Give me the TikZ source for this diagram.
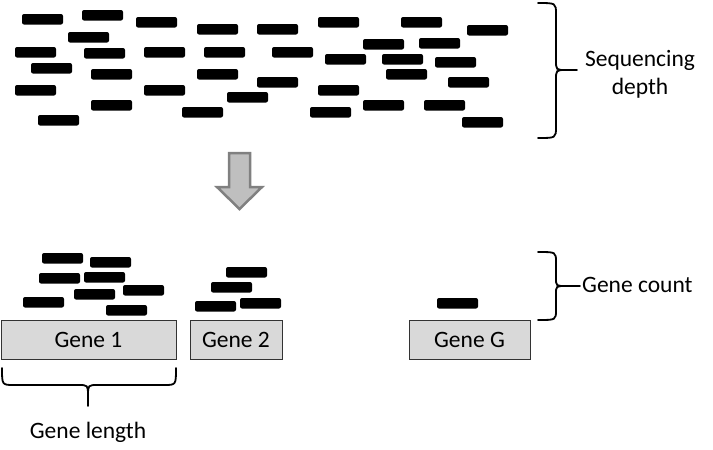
\documentclass[tikz,border=0pt]{standalone}
\usepackage{fontspec}
\setmainfont{Carlito}
\begin{document}
\begin{tikzpicture}[x=1pt,y=-1pt,
  readbar/.style={fill=black, rounded corners=2pt},
  genebox/.style={draw=black!80, line width=0.8pt, fill=black!15, inner sep=0pt, minimum height=39pt, font=\fontsize{23.5}{28}\selectfont},
  lbl/.style={font=\fontsize{23.5}{28}\selectfont, inner sep=0pt, text=black},
  bracepath/.style={draw=black, line width=1.8pt, line cap=round},
  bigarrow/.style={fill=black!25, draw=black!50, line width=2.5pt, line join=miter}]
\useasboundingbox (0,0) rectangle (713,450);
% reads (sequencing)
\foreach \x/\y in {22/14,82/10,136/17,197/24,68/32,15/47,84/48,144/47,204/47,31/63,91/69,197/69,15/85,144/85,227/92,91/100,182/107,38/115,
257/24,318/17,401/17,467/25,363/39,419/38,272/47,325/54,382/54,435/57,386/69,257/77,448/77,318/85,363/100,424/100,310/107,462/117}
  \fill[readbar] (\x,\y) rectangle ++(41,10.5);
% reads mapped to genes
\foreach \x/\y in {42/253,90/257,39/273,84/272,123/285,74/289,23/297,106/305,226/267,211/282,195/301,240/298,437/298}
  \fill[readbar] (\x,\y) rectangle ++(41,10.5);
% genes
\node[genebox, minimum width=175pt] (g1) at (88.5,339.5) {Gene 1};
\node[genebox, minimum width=92pt] (g2) at (236,339.5) {Gene 2};
\node[genebox, minimum width=121pt] (gG) at (469.5,339.5) {Gene G};
% arrow
\path[bigarrow] (229,153) -- (250,153) -- (250,187) -- (262,187) -- (239.5,209) -- (217,187) -- (229,187) -- cycle;
% brace: sequencing depth
\coordinate (sdtip) at (566,70);
\path[bracepath] (538,3) .. controls (556,3) .. (556,14) -- (556,60) .. controls (556,70) .. (sdtip)
  .. controls (556,70) .. (556,80) -- (556,127) .. controls (556,138) .. (538,138);
\coordinate (sdend) at (577,70);
\draw[bracepath] (sdtip) -- (sdend);
\node[lbl, anchor=base] (sd1) at (640,66.7) {Sequencing};
\node[lbl, anchor=base] (sd2) at (640,94.5) {depth};
% brace: gene count
\coordinate (gctip) at (566,286);
\path[bracepath] (538,252) .. controls (556,252) .. (556,262) -- (556,278) .. controls (556,286) .. (gctip)
  .. controls (556,286) .. (556,294) -- (556,310) .. controls (556,320) .. (538,320);
\coordinate (gcend) at (580,286);
\draw[bracepath] (gctip) -- (gcend);
\node[lbl, anchor=base west] (gc) at (582,292) {Gene count};
% brace: gene length
\coordinate (gltip) at (88,396);
\path[bracepath] (2,368) .. controls (2,385) .. (14,385) -- (78,385) .. controls (88,385) .. (gltip)
  .. controls (88,385) .. (98,385) -- (164,385) .. controls (176,385) .. (176,368);
\coordinate (glend) at (88,406);
\draw[bracepath] (gltip) -- (glend);
\node[lbl, anchor=base] (gl) at (88,438) {Gene length};
\end{tikzpicture}
\end{document}
